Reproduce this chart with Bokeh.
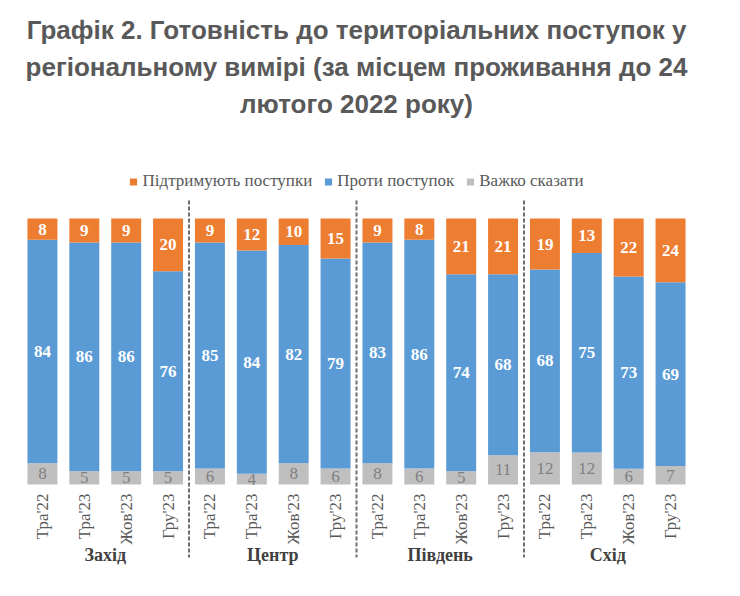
import numpy as np
from bokeh.plotting import figure
from bokeh.models import ColumnDataSource, Range1d, Legend, LegendItem, Title
from bokeh.core.properties import value
from bokeh.embed import file_html
from bokeh.resources import INLINE

# ---- data ----
title_lines = [
    "Графік 2. Готовність до територіальних поступок у",
    "регіональному вимірі (за місцем проживання до 24",
    "лютого 2022 року)",
]
regions = ["Захід", "Центр", "Південь", "Схід"]
waves = ["Тра'22", "Тра'23", "Жов'23", "Гру'23"]
series_names = ["Підтримують поступки", "Проти поступок", "Важко сказати"]
support = [8, 9, 9, 20, 9, 12, 10, 15, 9, 8, 21, 21, 19, 13, 22, 24]
against = [84, 86, 86, 76, 85, 84, 82, 79, 83, 86, 74, 68, 68, 75, 73, 69]
hard = [8, 5, 5, 5, 6, 4, 8, 6, 8, 6, 5, 11, 12, 12, 6, 7]

# ---- styles ----
C_SUP, C_AGN, C_HRD = "#ED7D31", "#5B9BD5", "#BFBFBF"
SERIF = "'Liberation Serif', 'Times New Roman', serif"
SANS = "'Liberation Sans', Arial, sans-serif"

n_w = len(waves)
n = len(support)
idx = np.arange(n, dtype=float)
tick_labels = [waves[i % n_w] for i in range(n)]

s = np.array(support, float)
a = np.array(against, float)
h = np.array(hard, float)
tot = s + a + h
hs, as_, ss = h / tot * 100, a / tot * 100, s / tot * 100

src_h = ColumnDataSource(dict(x=idx, b=np.zeros(n), t=hs, lab=[str(v) for v in hard]))
src_a = ColumnDataSource(dict(x=idx, b=hs, t=hs + as_, lab=[str(v) for v in against]))
src_s = ColumnDataSource(dict(x=idx, b=hs + as_, t=hs + as_ + ss, lab=[str(v) for v in support]))
for src in (src_h, src_a, src_s):
    src.data["m"] = (np.array(src.data["b"]) + np.array(src.data["t"])) / 2

# pixel layout: value 0 at y=484, 100 at y=218 (canvas px); frame 171..570
W, H = 724, 580
top_b, bot_b = 171, 10
Y0, Y100 = 484, 218
px_per = (Y0 - Y100) / 100.0
y_end = 100 + (Y100 - top_b) / px_per
y_start = -((H - bot_b) - Y0) / px_per

p = figure(width=W, height=H, output_backend="svg", toolbar_location=None,
           x_range=Range1d(-0.5, n - 0.5), y_range=Range1d(y_start, y_end),
           x_axis_location=None, y_axis_location=None,
           min_border_left=21, min_border_right=33, min_border_top=top_b,
           min_border_bottom=bot_b, outline_line_color=None)
p.grid.visible = False

# spacer between title block and legend (closest to the frame)
p.add_layout(Title(text=" ", text_font=SANS, text_font_size="26px", standoff=18), "above")
# title lines: first added sits closest to the frame
for txt, off in zip(reversed(title_lines), (0, 0, 14)):
    p.add_layout(Title(text=txt, align="center", text_font=SANS, text_font_size="26px",
                       text_font_style="bold", text_color="#595959", standoff=5,
                       offset=off), "above")

bw = 0.716
r_h = p.vbar(x="x", bottom="b", top="t", width=bw, source=src_h, fill_color=C_HRD, line_color=None)
r_a = p.vbar(x="x", bottom="b", top="t", width=bw, source=src_a, fill_color=C_AGN, line_color=None)
r_s = p.vbar(x="x", bottom="b", top="t", width=bw, source=src_s, fill_color=C_SUP, line_color=None)

for src, col, style in ((src_s, "white", "bold"), (src_a, "white", "bold"), (src_h, "#7F7F7F", "normal")):
    p.text(x="x", y="m", text="lab", source=src, text_align="center", text_baseline="middle",
           text_font=value(SERIF), text_font_size="17px", text_font_style=style, text_color=col)

# category tick labels (rotated)
p.text(x=idx, y=np.zeros(n), text=tick_labels, angle=np.pi / 2, text_align="right",
       text_baseline="middle", y_offset=9, text_font=value(SERIF), text_font_size="17px",
       text_color="#595959")

# region labels
gx = [idx[i * n_w:(i + 1) * n_w].mean() for i in range(len(regions))]
p.text(x=gx, y=np.zeros(len(regions)), text=regions, text_align="center", text_baseline="middle",
       y_offset=70, text_font=value(SERIF), text_font_size="18px", text_font_style="bold",
       text_color="#404040")

# dashed separators between regions
sx = [idx[(i + 1) * n_w - 1] + 0.5 for i in range(len(regions) - 1)]
y_sep_top = 100 + (Y100 - 200) / px_per
y_sep_bot = -(557 - Y0) / px_per
p.segment(x0=sx, x1=sx, y0=[y_sep_top] * len(sx), y1=[y_sep_bot] * len(sx),
          line_color="#6E6E6E", line_width=2, line_dash="4 2")

legend = Legend(items=[LegendItem(label=series_names[0], renderers=[r_s]),
                       LegendItem(label=series_names[1], renderers=[r_a]),
                       LegendItem(label=series_names[2], renderers=[r_h])],
                orientation="horizontal", location="top_center",
                border_line_color=None, background_fill_alpha=0,
                glyph_width=9, glyph_height=9, label_standoff=5, spacing=11,
                padding=0, margin=0, label_text_font=SERIF, label_text_font_size="17px",
                label_text_color="#595959", label_height=20)
p.add_layout(legend)

open("out.html", "w").write(file_html(p, INLINE))
